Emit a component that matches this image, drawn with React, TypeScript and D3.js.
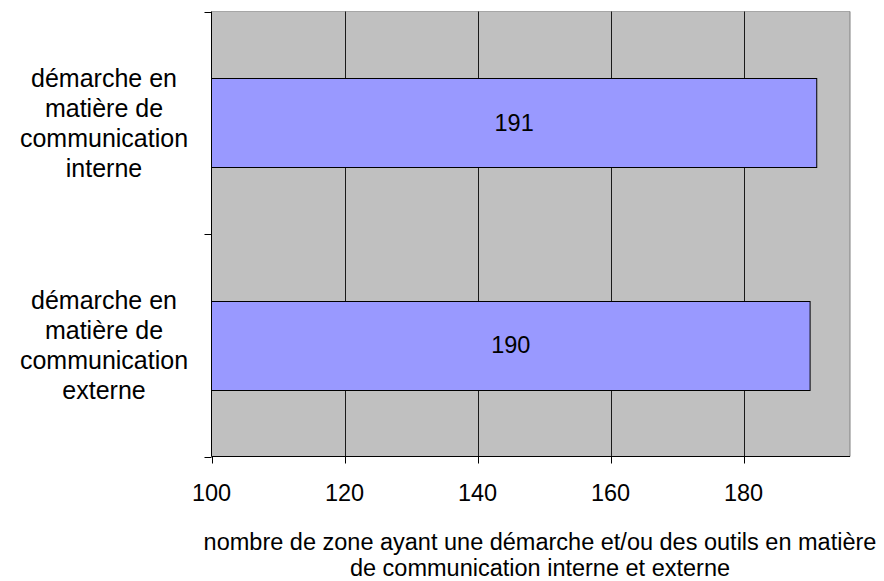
import { useEffect, useRef } from 'react';
import * as d3 from 'd3';

const categories = ['interne', 'externe'];
const values = [191, 190];
const categoryLabels = [
  ['démarche en', 'matière de', 'communication', 'interne'],
  ['démarche en', 'matière de', 'communication', 'externe'],
];
const xTicks = [100, 120, 140, 160, 180];
const axisTitle = [
  'nombre de zone ayant une démarche et/ou des outils en matière',
  'de communication interne et externe',
];

export default function App() {
  const svgRef = useRef<SVGSVGElement>(null);

  useEffect(() => {
    if (!svgRef.current) return;
    const svg = d3.select(svgRef.current);
    svg.selectAll('*').remove();

    const width = 884;
    const height = 581;
    const left = 211.5;
    const right = 850;
    const top = 11.5;
    const bottom = 456.5;
    const font = '"Liberation Sans", Arial, sans-serif';
    const fs = 23.5;

    const x = d3.scaleLinear().domain([100, 196]).range([left, right]);
    const y = d3.scaleBand<string>()
      .domain(categories)
      .range([top, bottom])
      .paddingInner(0.6)
      .paddingOuter(0.3);

    svg.attr('width', width).attr('height', height);

    // plot area
    svg.append('rect')
      .attr('x', left)
      .attr('y', top)
      .attr('width', right - left)
      .attr('height', bottom - top)
      .attr('fill', '#c0c0c0');
    svg.append('line')
      .attr('x1', left).attr('x2', right)
      .attr('y1', top).attr('y2', top)
      .attr('stroke', '#a6a6a6').attr('stroke-width', 1);
    svg.append('line')
      .attr('x1', right).attr('x2', right)
      .attr('y1', top).attr('y2', bottom)
      .attr('stroke', '#808080').attr('stroke-width', 1);

    // gridlines
    svg.append('g')
      .selectAll('line')
      .data(xTicks.slice(1))
      .join('line')
      .attr('x1', (d) => Math.round(x(d)) + 0.5)
      .attr('x2', (d) => Math.round(x(d)) + 0.5)
      .attr('y1', top)
      .attr('y2', bottom)
      .attr('stroke', '#1a1a1a')
      .attr('stroke-width', 1);

    // bars
    svg.append('g')
      .selectAll('rect')
      .data(categories)
      .join('rect')
      .attr('x', left)
      .attr('y', (d) => Math.round(y(d)!) + 0.5)
      .attr('width', (_, i) => x(values[i]) - left)
      .attr('height', Math.round(y.bandwidth()))
      .attr('fill', '#9999ff')
      .attr('stroke', '#000')
      .attr('stroke-width', 1);

    // value labels
    svg.append('g')
      .selectAll('text')
      .data(categories)
      .join('text')
      .attr('x', (_, i) => (left + x(values[i])) / 2)
      .attr('y', (d) => y(d)! + y.bandwidth() / 2)
      .attr('dy', '0.35em')
      .attr('text-anchor', 'middle')
      .attr('font-family', font)
      .attr('font-size', fs)
      .text((_, i) => values[i]);

    // y axis
    svg.append('line')
      .attr('x1', left).attr('x2', left)
      .attr('y1', top).attr('y2', bottom)
      .attr('stroke', '#000');
    svg.append('g')
      .selectAll('line')
      .data([top, (top + bottom) / 2, bottom])
      .join('line')
      .attr('x1', left - 7).attr('x2', left)
      .attr('y1', (d) => Math.round(d) + 0.5)
      .attr('y2', (d) => Math.round(d) + 0.5)
      .attr('stroke', '#000');

    // category labels
    categories.forEach((c, i) => {
      const cy = y(c)! + y.bandwidth() / 2;
      const lines = categoryLabels[i];
      const lh = 30;
      svg.append('text')
        .attr('text-anchor', 'middle')
        .attr('font-family', font)
        .attr('font-size', 25)
        .selectAll('tspan')
        .data(lines)
        .join('tspan')
        .attr('x', 104)
        .attr('y', (_, j) => cy + (j - (lines.length - 1) / 2) * lh)
        .attr('dy', '0.35em')
        .text((d) => d);
    });

    // x axis
    svg.append('line')
      .attr('x1', left).attr('x2', right)
      .attr('y1', bottom).attr('y2', bottom)
      .attr('stroke', '#000');
    const xa = svg.append('g');
    xa.selectAll('line')
      .data(xTicks)
      .join('line')
      .attr('x1', (d) => Math.round(x(d)) + 0.5)
      .attr('x2', (d) => Math.round(x(d)) + 0.5)
      .attr('y1', bottom)
      .attr('y2', bottom + 7)
      .attr('stroke', '#000');
    xa.selectAll('text')
      .data(xTicks)
      .join('text')
      .attr('x', (d) => x(d))
      .attr('y', 493)
      .attr('dy', '0.35em')
      .attr('text-anchor', 'middle')
      .attr('font-family', font)
      .attr('font-size', fs)
      .text((d) => d);

    // axis title
    svg.append('text')
      .attr('text-anchor', 'middle')
      .attr('font-family', font)
      .attr('font-size', fs)
      .selectAll('tspan')
      .data(axisTitle)
      .join('tspan')
      .attr('x', 540)
      .attr('y', (_, j) => 550 + j * 26)
      .text((d) => d);
  }, []);

  return (
    <div style={{ position: 'absolute', left: 0, top: 0 }}>
      <svg ref={svgRef} style={{ display: 'block' }} />
    </div>
  );
}
